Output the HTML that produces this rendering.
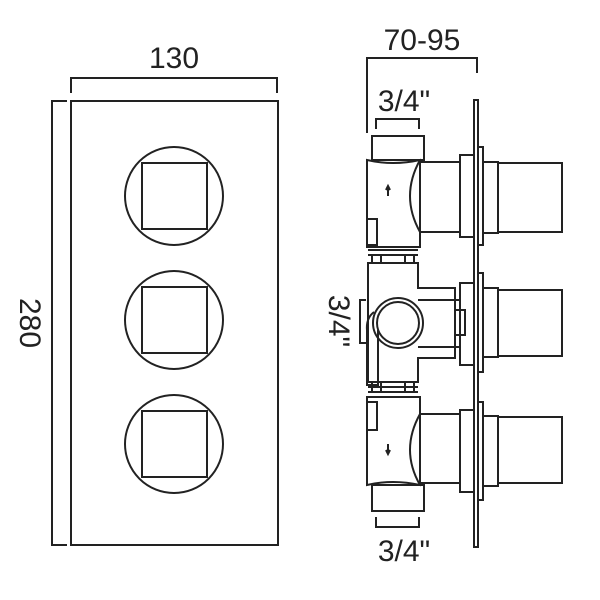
<!DOCTYPE html><html><head><style>body{margin:0;background:#fff}svg{display:block}text{font-family:"Liberation Sans",sans-serif;fill:#222}</style></head><body>
<svg width="600" height="600" viewBox="0 0 600 600" fill="none" stroke="#222" stroke-width="2">
<!-- front view -->
<text x="174" y="68" font-size="30" text-anchor="middle" stroke="none">130</text>
<path d="M71 93V78H277V93"/>
<rect x="71" y="101" width="207" height="444"/>
<path d="M67 101H52V545H67"/>
<text x="0" y="0" font-size="30" text-anchor="middle" stroke="none" transform="translate(20 323) rotate(90)">280</text>
<circle cx="174" cy="196" r="49"/><rect x="142" y="163" width="65" height="66"/>
<circle cx="174" cy="320" r="49"/><rect x="142" y="287" width="65" height="66"/>
<circle cx="174" cy="444" r="49"/><rect x="142" y="411" width="65" height="66"/>
<!-- side view dims -->
<text x="422" y="50" font-size="30" text-anchor="middle" stroke="none">70-95</text>
<path d="M367 133V58H477V73"/>
<text x="404" y="111" font-size="30" text-anchor="middle" stroke="none">3/4"</text>
<path d="M376 129V119H419V129"/>
<path d="M376 517V527H419V517"/>
<text x="404" y="561" font-size="30" text-anchor="middle" stroke="none">3/4"</text>
<path d="M366 300H360V343H366"/>
<text x="0" y="0" font-size="30" text-anchor="middle" stroke="none" transform="translate(329 321) rotate(90)">3/4"</text>
<!-- plate -->
<rect x="474" y="100" width="4" height="447"/>
<!-- top valve -->
<rect x="372" y="136" width="52" height="24"/>
<path d="M367 160Q393 166 420 160V247H367Z"/>
<path d="M420 162H460V232H420"/>
<path d="M420 160Q400 196 420 232"/>
<rect x="460" y="155" width="14" height="82"/>
<rect x="478" y="147" width="5" height="98"/>
<rect x="483" y="162" width="15" height="71"/>
<rect x="498" y="163" width="64" height="69"/>
<rect x="367" y="219" width="10" height="26"/>
<path d="M368 250H418M368 255H418M372 255V263M381 255V263M405 255V263M414 255V263"/>
<path d="M388 196V188M386 190L388 186L390 190" stroke-width="2"/>
<!-- middle -->
<path d="M368 263H418V288H455V358H418V382H368Z"/>
<path d="M418 300H460V347H418"/>
<circle cx="398" cy="323" r="25"/><circle cx="398" cy="323" r="21"/>
<path d="M374 312Q366 318 367 330V385H378V330"/>
<rect x="455" y="310" width="10" height="25"/>
<rect x="460" y="283" width="14" height="82"/>
<rect x="478" y="273" width="5" height="99"/>
<rect x="483" y="288" width="15" height="69"/>
<rect x="498" y="290" width="64" height="66"/>
<path d="M368 387H418M368 392H418M372 382V392M381 382V392M405 382V392M414 382V392"/>
<!-- bottom valve -->
<path d="M367 397H420V485Q393 479 367 485Z"/>
<rect x="372" y="485" width="52" height="26"/>
<path d="M420 414H460V483H420"/>
<path d="M420 414Q400 450 420 485"/>
<rect x="460" y="410" width="14" height="82"/>
<rect x="478" y="402" width="5" height="98"/>
<rect x="483" y="416" width="15" height="70"/>
<rect x="498" y="417" width="64" height="66"/>
<rect x="367" y="402" width="10" height="28"/>
<path d="M388 444V452M386 450L388 454L390 450" stroke-width="2"/>
</svg></body></html>
